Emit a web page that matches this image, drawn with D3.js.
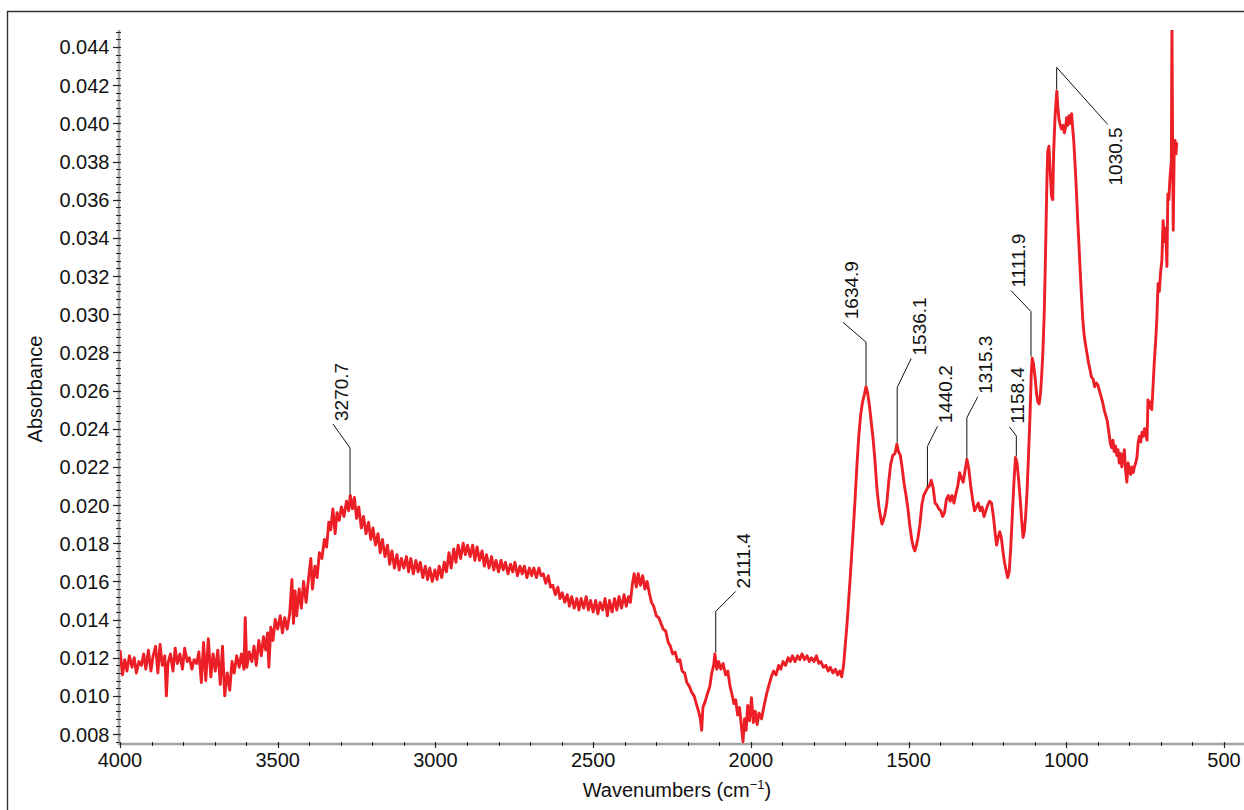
<!DOCTYPE html>
<html><head><meta charset="utf-8">
<script src="https://cdn.jsdelivr.net/npm/d3@7"></script>
<style>
body{margin:0;background:#fff}
svg{display:block}
text{font-family:"Liberation Sans", Arial, Helvetica, sans-serif;fill:#111}
</style>
</head><body>
<svg id="chart" width="1244" height="810"></svg>
<script>
// ---------------- DATA ----------------
const wavenumbers = [
4000,3992,3985,3978,3970,3962,3955,3948,3940,3932,3925,3918,3910,3902,3895,3887,3880,3873,3866,3858,3853,3848,3840,3832,3825,3818,3810,3802,3795,3787,3780,3772,3765,3757,3750,3742,3735,3728,3720,3712,3705,3698,3690,3682,3675,3668,3660,3652,3645,3638,3630,3622,3615,3607,3603,3598,3590,3582,3575,3568,3560,3552,3545,3538,3532,3528,3522,3515,3508,3500,3492,3485,3478,3470,3462,3455,3450,3445,3440,3432,3425,3418,3410,3402,3395,3390,3382,3375,3368,3360,3352,3345,3338,3332,3325,3318,3312,3305,3298,3290,3282,3275,3270,3263,3257,3250,3243,3235,3228,3220,3212,3205,3198,3190,3182,3175,3168,3160,3152,3145,3138,3130,3122,3115,3108,3100,3092,3085,3078,3070,3062,3055,3048,3040,3032,3025,3018,3010,3002,2995,2988,2980,2972,2965,2957,2950,2942,2935,2928,2920,2912,2905,2898,2890,2882,2875,2868,2860,2852,2845,2838,2830,2822,2815,2808,2800,2792,2785,2778,2770,2762,2755,2748,2740,2732,2725,2718,2710,2702,2695,2688,2680,2672,2665,2658,2650,2642,2635,2628,2620,2612,2605,2598,2590,2582,2575,2568,2560,2552,2545,2538,2530,2522,2515,2508,2500,2492,2485,2478,2470,2462,2455,2448,2440,2432,2425,2418,2410,2402,2395,2388,2382,2376,2370,2363,2357,2350,2343,2336,2329,2322,2315,2308,2300,2292,2285,2278,2270,2262,2255,2248,2240,2232,2225,2218,2210,2203,2195,2188,2180,2173,2166,2160,2156,2152,2145,2138,2130,2124,2118,2114,2108,2102,2095,2088,2080,2073,2066,2060,2054,2048,2042,2036,2030,2025,2020,2015,2010,2004,1998,1992,1986,1980,1974,1966,1958,1950,1942,1935,1928,1920,1912,1905,1898,1890,1882,1875,1868,1860,1852,1845,1838,1830,1822,1815,1808,1800,1792,1785,1778,1770,1762,1755,1748,1740,1732,1725,1718,1712,1706,1701,1695,1690,1685,1680,1675,1670,1664,1658,1652,1646,1640,1635,1630,1624,1618,1612,1606,1600,1594,1588,1584,1580,1575,1569,1563,1557,1550,1543,1537,1532,1526,1520,1514,1508,1502,1496,1490,1485,1480,1475,1470,1464,1458,1452,1446,1440,1434,1428,1422,1416,1410,1404,1398,1392,1386,1380,1374,1368,1362,1356,1350,1344,1338,1332,1327,1321,1315,1309,1303,1297,1291,1285,1279,1273,1267,1261,1255,1249,1243,1237,1231,1226,1221,1216,1211,1206,1201,1196,1191,1186,1181,1176,1171,1166,1161,1156,1151,1146,1141,1137,1133,1129,1125,1120,1115,1111,1108,1104,1099,1094,1090,1086,1082,1078,1074,1070,1066,1062,1059,1055,1051,1047,1043,1040,1036,1033,1030,1027,1023,1019,1015,1010,1006,1002,999,995,991,987,983,980,976,972,968,964,960,956,952,948,944,940,935,930,925,920,915,910,905,900,895,890,885,880,875,870,865,860,856,852,848,844,840,836,832,828,824,820,816,812,808,804,800,796,792,788,784,780,776,772,768,764,760,756,752,748,744,741,737,733,729,725,721,717,713,709,705,701,697,693,689,685,681,678,675,671,667,665,663,661,658,655,652,650
];
const absorbance = [
0.0124,0.0111,0.0119,0.0113,0.0121,0.0115,0.0120,0.0112,0.0118,0.0116,0.0122,0.0114,0.0124,0.0113,0.0121,0.0126,0.0112,0.0127,0.0116,0.0121,0.0100,0.0117,0.0122,0.0113,0.0125,0.0117,0.0122,0.0114,0.0125,0.0118,0.0120,0.0114,0.0119,0.0117,0.0123,0.0107,0.0128,0.0108,0.0130,0.0110,0.0122,0.0113,0.0124,0.0106,0.0126,0.0100,0.0112,0.0103,0.0118,0.0112,0.0121,0.0115,0.0122,0.0114,0.0141,0.0115,0.0123,0.0118,0.0126,0.0116,0.0129,0.0121,0.0131,0.0124,0.0133,0.0115,0.0136,0.0129,0.0140,0.0135,0.0142,0.0133,0.0141,0.0135,0.0143,0.0161,0.0138,0.0155,0.0142,0.0156,0.0146,0.0160,0.0149,0.0162,0.0172,0.0156,0.0168,0.0162,0.0175,0.0172,0.0182,0.0178,0.0191,0.0187,0.0198,0.0185,0.0196,0.0192,0.0199,0.0194,0.0202,0.0197,0.0205,0.0198,0.0204,0.0193,0.0199,0.0188,0.0194,0.0185,0.0191,0.0182,0.0188,0.0179,0.0185,0.0175,0.0182,0.0173,0.0179,0.0169,0.0176,0.0167,0.0174,0.0166,0.0172,0.0167,0.0173,0.0165,0.0172,0.0164,0.0171,0.0165,0.0170,0.0162,0.0168,0.0161,0.0167,0.0160,0.0166,0.0161,0.0168,0.0162,0.0170,0.0165,0.0175,0.0167,0.0177,0.0170,0.0179,0.0172,0.0180,0.0174,0.0179,0.0173,0.0179,0.0171,0.0178,0.0171,0.0176,0.0168,0.0174,0.0167,0.0173,0.0166,0.0171,0.0165,0.0171,0.0166,0.0170,0.0164,0.0169,0.0165,0.0170,0.0163,0.0168,0.0164,0.0168,0.0162,0.0167,0.0163,0.0167,0.0162,0.0167,0.0163,0.0164,0.0159,0.0163,0.0157,0.0158,0.0153,0.0157,0.0151,0.0154,0.0149,0.0153,0.0147,0.0152,0.0146,0.0151,0.0145,0.0151,0.0146,0.0152,0.0145,0.0150,0.0144,0.0150,0.0143,0.0149,0.0145,0.0151,0.0142,0.0150,0.0144,0.0151,0.0145,0.0152,0.0146,0.0153,0.0147,0.0152,0.0149,0.0158,0.0164,0.0157,0.0164,0.0158,0.0163,0.0156,0.0160,0.0154,0.0149,0.0147,0.0142,0.0141,0.0138,0.0135,0.0134,0.0128,0.0126,0.0122,0.0123,0.0118,0.0119,0.0113,0.0112,0.0107,0.0105,0.0102,0.0100,0.0096,0.0092,0.0088,0.0082,0.0094,0.0097,0.0101,0.0105,0.0112,0.0116,0.0122,0.0114,0.0118,0.0114,0.0117,0.0111,0.0113,0.0105,0.0101,0.0096,0.0098,0.0090,0.0094,0.0084,0.0076,0.0088,0.0082,0.0095,0.0087,0.0099,0.0086,0.0092,0.0085,0.0091,0.0088,0.0095,0.0101,0.0106,0.0110,0.0113,0.0111,0.0116,0.0114,0.0118,0.0116,0.0120,0.0118,0.0121,0.0118,0.0121,0.0119,0.0122,0.0119,0.0121,0.0118,0.0120,0.0118,0.0121,0.0117,0.0118,0.0115,0.0116,0.0113,0.0115,0.0112,0.0114,0.0111,0.0113,0.0110,0.0116,0.0126,0.0138,0.0150,0.0162,0.0175,0.0188,0.0202,0.0220,0.0236,0.0247,0.0254,0.0258,0.0262,0.0259,0.0252,0.0243,0.0234,0.0222,0.0208,0.0199,0.0193,0.0190,0.0192,0.0195,0.0201,0.0212,0.0221,0.0226,0.0227,0.0232,0.0228,0.0226,0.0219,0.0211,0.0205,0.0198,0.0189,0.0182,0.0178,0.0176,0.0179,0.0183,0.0190,0.0200,0.0205,0.0207,0.0209,0.0210,0.0213,0.0209,0.0201,0.0200,0.0198,0.0197,0.0194,0.0196,0.0203,0.0205,0.0202,0.0205,0.0201,0.0206,0.0210,0.0217,0.0214,0.0212,0.0218,0.0224,0.0219,0.0210,0.0203,0.0197,0.0199,0.0201,0.0197,0.0199,0.0194,0.0197,0.0200,0.0202,0.0201,0.0194,0.0186,0.0179,0.0183,0.0186,0.0183,0.0176,0.0170,0.0166,0.0162,0.0165,0.0178,0.0195,0.0212,0.0225,0.0222,0.0213,0.0203,0.0191,0.0183,0.0186,0.0194,0.0205,0.0225,0.0247,0.0269,0.0277,0.0274,0.0267,0.0258,0.0254,0.0253,0.0258,0.0268,0.0281,0.0300,0.0330,0.0365,0.0385,0.0388,0.0375,0.0362,0.0360,0.0385,0.0402,0.0410,0.0417,0.0409,0.0402,0.0399,0.0397,0.0399,0.0395,0.0398,0.0403,0.0399,0.0404,0.0400,0.0405,0.0398,0.0390,0.0378,0.0365,0.0350,0.0337,0.0323,0.0310,0.0298,0.0290,0.0285,0.0280,0.0275,0.0271,0.0267,0.0266,0.0262,0.0264,0.0263,0.0260,0.0257,0.0254,0.0250,0.0247,0.0244,0.0238,0.0232,0.0230,0.0234,0.0228,0.0231,0.0226,0.0229,0.0222,0.0227,0.0220,0.0225,0.0229,0.0218,0.0212,0.0222,0.0219,0.0216,0.0220,0.0217,0.0220,0.0222,0.0225,0.0233,0.0236,0.0233,0.0238,0.0236,0.0240,0.0237,0.0234,0.0255,0.0251,0.0254,0.0250,0.0262,0.0275,0.0285,0.0297,0.0316,0.0312,0.0322,0.0328,0.0349,0.0338,0.0345,0.0325,0.0363,0.0360,0.0372,0.0380,0.0452,0.0390,0.0344,0.0385,0.0391,0.0384,0.0390
];

const xTickValues = [4000,3500,3000,2500,2000,1500,1000,500];
const xTickLabels = ["4000","3500","3000","2500","2000","1500","1000","500"];
const yTickValues = [0.008,0.010,0.012,0.014,0.016,0.018,0.020,0.022,0.024,0.026,0.028,0.030,0.032,0.034,0.036,0.038,0.040,0.042,0.044];
const yTickLabels = ["0.008","0.010","0.012","0.014","0.016","0.018","0.020","0.022","0.024","0.026","0.028","0.030","0.032","0.034","0.036","0.038","0.040","0.042","0.044"];

const peakLabels = ["3270.7","2111.4","1634.9","1536.1","1440.2","1315.3","1158.4","1111.9","1030.5"];
const peakWavenumbers = [3270.7,2111.4,1634.9,1536.1,1440.2,1315.3,1158.4,1111.9,1030.5];

// ---------------- LAYOUT (pixels) ----------------
const leaderLayout = [
  {v:46, dx:-17, dy:-24, anchor:"start"},
  {v:41, dx:20,  dy:-20, anchor:"start"},
  {v:43, dx:-23, dy:-20, anchor:"start"},
  {v:55, dx:14,  dy:-29, anchor:"start"},
  {v:40, dx:10,  dy:-20, anchor:"start"},
  {v:40, dx:11,  dy:-21, anchor:"start"},
  {v:20, dx:-7,  dy:-9,  anchor:"start"},
  {v:45, dx:-20, dy:-21, anchor:"start"},
  {v:22, dx:51,  dy:57,  anchor:"end"}
];

const svg = d3.select("#chart");
const plot = {left:120, right:1244, top:30, bottom:744};

const x = d3.scaleLinear().domain([4000, 436.6]).range([plot.left, plot.right]);
const y = d3.scaleLinear().domain([0.00748, 0.04489]).range([plot.bottom, plot.top]);

// outer frame (left & top edges visible)
svg.append("line").attr("x1",7.5).attr("x2",7.5).attr("y1",11).attr("y2",810).attr("stroke","#333").attr("stroke-width",1.4);
svg.append("line").attr("x1",7).attr("x2",1244).attr("y1",11.5).attr("y2",11.5).attr("stroke","#333").attr("stroke-width",1.4);

// clip
svg.append("defs").append("clipPath").attr("id","clip")
  .append("rect").attr("x",plot.left).attr("y",plot.top).attr("width",plot.right-plot.left).attr("height",plot.bottom-plot.top);

// axes
const axisColor = "#a4a4a4";
const yMinor = d3.range(0.0076, 0.04489, 0.0004);
const gy = svg.append("g");
gy.append("line").attr("x1",119).attr("x2",119).attr("y1",plot.top).attr("y2",plot.bottom+1)
  .attr("stroke",axisColor).attr("stroke-width",2.6);
gy.selectAll("line.minor").data(yMinor).join("line").attr("class","minor")
  .attr("x1",116).attr("x2",121).attr("y1",d=>Math.round(y(d))+0.5).attr("y2",d=>Math.round(y(d))+0.5)
  .attr("stroke","#222").attr("stroke-width",1);
gy.selectAll("line.major").data(yTickValues).join("line").attr("class","major")
  .attr("x1",113).attr("x2",121).attr("y1",d=>Math.round(y(d))+0.5).attr("y2",d=>Math.round(y(d))+0.5)
  .attr("stroke","#222").attr("stroke-width",1.2);
gy.selectAll("text").data(yTickValues).join("text")
  .attr("x",109.5).attr("y",d=>y(d)+7.5).attr("text-anchor","end")
  .attr("font-size",20).text((d,i)=>yTickLabels[i]);

const xMinor = d3.range(4000, 436, -100);
const gx = svg.append("g");
gx.append("line").attr("x1",118).attr("x2",plot.right).attr("y1",744).attr("y2",744)
  .attr("stroke",axisColor).attr("stroke-width",2.6);
gx.selectAll("line.minor").data(xMinor).join("line").attr("class","minor")
  .attr("y1",742).attr("y2",746).attr("x1",d=>Math.round(x(d))+0.5).attr("x2",d=>Math.round(x(d))+0.5)
  .attr("stroke","#222").attr("stroke-width",1);
gx.selectAll("line.major").data(xTickValues).join("line").attr("class","major")
  .attr("y1",742).attr("y2",748).attr("x1",d=>Math.round(x(d))+0.5).attr("x2",d=>Math.round(x(d))+0.5)
  .attr("stroke","#222").attr("stroke-width",1.2);
gx.selectAll("text").data(xTickValues).join("text")
  .attr("x",d=>x(d)).attr("y",767).attr("text-anchor","middle")
  .attr("font-size",20).text((d,i)=>xTickLabels[i]);

// axis titles
svg.append("text").attr("transform","translate(42,389) rotate(-90)")
  .attr("text-anchor","middle").attr("font-size",20).text("Absorbance");
const xt = svg.append("text").attr("x",677).attr("y",797).attr("text-anchor","middle").attr("font-size",20);
xt.append("tspan").text("Wavenumbers (cm");
xt.append("tspan").attr("font-size",13).attr("dy",-8).text("\u22121");
xt.append("tspan").attr("dy",8).text(")");

// spectrum
const pts = wavenumbers.map((w,i)=>[w, absorbance[i]]);
const line = d3.line().x(d=>x(d[0])).y(d=>y(d[1]));
svg.append("path").datum(pts).attr("clip-path","url(#clip)")
  .attr("d",line).attr("fill","none").attr("stroke","#ec1f26")
  .attr("stroke-width",2.9).attr("stroke-linejoin","round");

// peak annotations
const ga = svg.append("g");
peakWavenumbers.forEach((w,i)=>{
  const near = pts.filter(p=>Math.abs(p[0]-w)<=6);
  const pk = d3.max(near, p=>p[1]);
  const px = x(w), py = y(pk) - 1.5;
  const L = leaderLayout[i];
  const topY = py - L.v;
  const ex = px + L.dx, ey = topY + L.dy;
  ga.append("path").attr("d",`M${px},${py}V${topY}L${ex},${ey}`)
    .attr("fill","none").attr("stroke","#111").attr("stroke-width",1);
  const ty = L.anchor==="end" ? ey + 3 : ey - 3;
  ga.append("text").attr("transform",`translate(${ex+14.5},${ty}) rotate(-90)`)
    .attr("text-anchor",L.anchor).attr("font-size",19).text(peakLabels[i]);
});
</script>
</body></html>
